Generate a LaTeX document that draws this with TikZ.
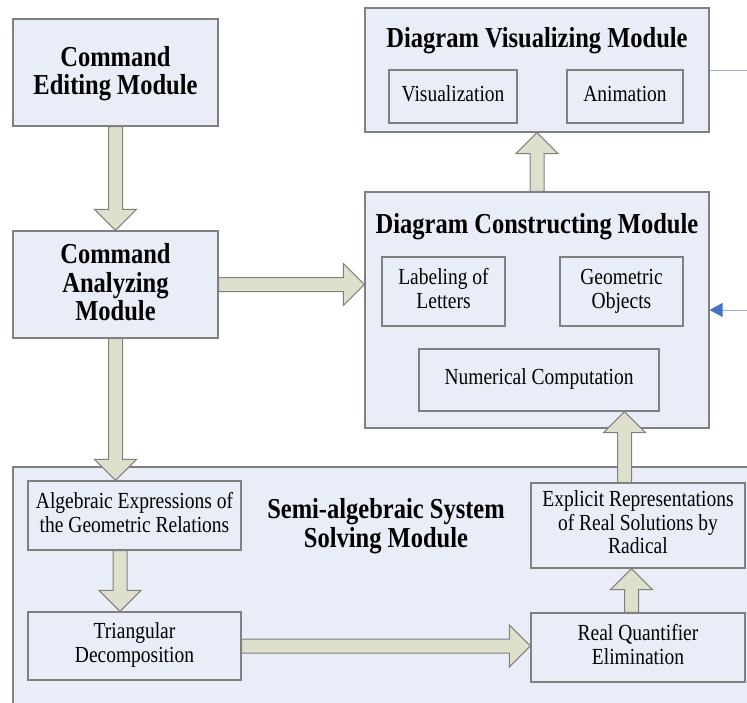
\documentclass[tikz,border=0pt]{standalone}
\usepackage{fontspec}
\setmainfont{Liberation Serif}
\usetikzlibrary{calc,fit,arrows.meta}
\definecolor{boxc}{RGB}{233,237,247}
\definecolor{bordc}{RGB}{128,128,128}
\definecolor{arrc}{RGB}{222,224,204}
\definecolor{lblue}{RGB}{142,180,227}
\definecolor{dblue}{RGB}{68,114,196}
\newcommand\vs[1]{\scalebox{1}[1.18]{#1}}
\newcommand\btxt[1]{\vs{\fontsize{24.5}{23.5}\selectfont\bfseries\begin{tabular}{@{}c@{}}#1\end{tabular}}}
\newcommand\rtxt[1]{\vs{\fontsize{19.5}{20}\selectfont\begin{tabular}{@{}c@{}}#1\end{tabular}}}
\newcommand\bline[1]{\vs{\fontsize{24.5}{23.5}\selectfont\bfseries #1}}
\newcommand\blockarrow[2]{%
  \path[blk] let \p1=(#1), \p2=(#2),
    \n1={atan2(\y2-\y1,\x2-\x1)}, \n2={veclen(\x2-\x1,\y2-\y1)} in
    [shift={(\x1,\y1)}, rotate=\n1]
    (0,-7) -- ({\n2-21},-7) -- ({\n2-21},-21) -- ({\n2},0) --
    ({\n2-21},21) -- ({\n2-21},7) -- (0,7) -- cycle;}
\begin{document}
\begin{tikzpicture}[x=1pt,y=-1pt,
  box/.style={draw=bordc, fill=boxc, line width=1.2pt, inner sep=0pt},
  blk/.style={draw=bordc, fill=arrc, line width=1pt, line join=miter},
  txt/.style={inner sep=0pt, anchor=center},
  ttl/.style={inner sep=0pt, anchor=base}]
\useasboundingbox (0,0) rectangle (747,702);
\clip (0,0) rectangle (747,702);

% top-left modules
\node[box, fit={(13,19) (218,126)}] (CE) {};
\node[txt] (CEt) at ($(CE.center)+(0,2)$) {\btxt{Command\\Editing Module}};
\node[box, fit={(13,231) (218,338)}] (CA) {};
\node[txt] (CAt) at ($(CA.center)+(0,2)$) {\btxt{Command\\Analyzing\\Module}};

% diagram visualizing module
\node[box, fit={(365,8) (709,132)}] (DV) {};
\node[ttl] (DVt) at (537,47) {\bline{Diagram Visualizing Module}};
\node[box, fit={(389,70) (517,123)}] (Vis) {};
\node[txt] (Vist) at (Vis.center) {\rtxt{Visualization}};
\node[box, fit={(567,70) (683,123)}] (Anim) {};
\node[txt] (Animt) at (Anim.center) {\rtxt{Animation}};

% diagram constructing module
\node[box, fit={(365,192) (709,428)}] (DC) {};
\node[ttl] (DCt) at (537,233) {\bline{Diagram Constructing Module}};
\node[box, fit={(382,257) (505,326)}] (Lab) {};
\node[txt] (Labt) at (Lab.center) {\rtxt{Labeling of\\Letters}};
\node[box, fit={(560,257) (683,326)}] (Geo) {};
\node[txt] (Geot) at (Geo.center) {\rtxt{Geometric\\Objects}};
\node[box, fit={(419,349) (659,411)}] (Num) {};
\node[txt] (Numt) at (Num.center) {\rtxt{Numerical Computation}};

% semi-algebraic system solving module
\node[box, fit={(13,467) (770,730)}] (SA) {};
\node[txt] (SAt) at (386,527) {\btxt{Semi-algebraic System\\Solving Module}};
\node[box, fit={(28,481) (241,550)}] (Alg) {};
\node[txt] (Algt) at (Alg.center) {\rtxt{Algebraic Expressions of\\the Geometric Relations}};
\node[box, fit={(28,612) (241,680)}] (Tri) {};
\node[txt] (Trit) at (Tri.center) {\rtxt{Triangular\\Decomposition}};
\node[box, fit={(531,483) (745,568)}] (Exp) {};
\node[txt] (Expt) at (Exp.center) {\rtxt{Explicit Representations\\of Real Solutions by\\Radical}};
\node[box, fit={(531,613) (745,682)}] (RQ) {};
\node[txt] (RQt) at (RQ.center) {\rtxt{Real Quantifier\\Elimination}};

% block arrows
\coordinate (a4) at ($(Alg.south)+(-14.5,0)$);
\coordinate (a6) at ($(RQ.north)+(-6.5,0)$);
\coordinate (a7) at ($(Exp.north)+(-13.5,0)$);
\blockarrow{CE.south}{CA.north}
\blockarrow{CA.east}{CA.east -| DC.west}
\blockarrow{CA.south}{CA.south |- Alg.north}
\blockarrow{a4}{a4 |- Tri.north}
\blockarrow{Tri.east}{Tri.east -| RQ.west}
\blockarrow{a6}{a6 |- Exp.south}
\blockarrow{a7}{a7 |- Num.south}
\blockarrow{DC.north}{DV.south}

% blue connectors at the right edge
\coordinate (e1) at (747,70);
\coordinate (e2) at (747,310);
\draw[lblue, line width=1pt] (DV.east) -- (e1);
\draw[lblue, line width=1pt, -{Triangle[length=13pt,width=14pt,color=dblue]}] (e2) -- (e2 -| DC.east);
\end{tikzpicture}
\end{document}
